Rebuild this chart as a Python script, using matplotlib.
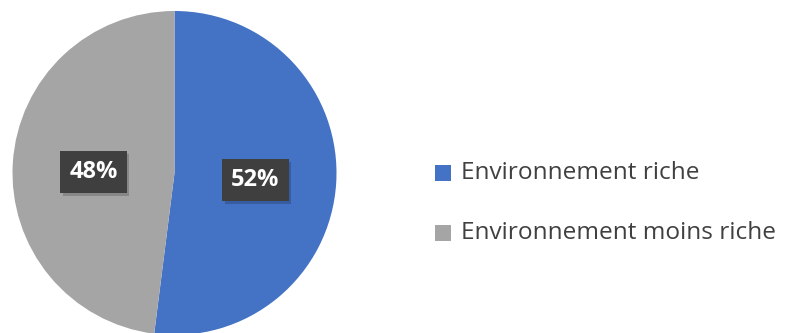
import numpy as np
import matplotlib.pyplot as plt
import matplotlib.patheffects as pe
from matplotlib.patches import Rectangle

plt.rcParams.update({'font.family': ['Open Sans', 'DejaVu Sans'],
                     'hatch.color': '#575757', 'hatch.linewidth': 1.5})

labels = ['Environnement riche', 'Environnement moins riche']
values = [52, 48]
colors = ['#4472C4', '#A5A5A5']

W, H = 788, 333
fig = plt.figure(figsize=(W / 100, H / 100), dpi=100)
fig.patch.set_facecolor('white')

# pie axes in pixel coords: centre (174.5, 173), radius 162
r = 162
cx, cy = 174.5, 173
ax = fig.add_axes([(cx - r) / W, 1 - (cy + r) / H, 2 * r / W, 2 * r / H])
wedges, _ = ax.pie(values, colors=colors, startangle=90, counterclock=False,
                   radius=1.0, wedgeprops=dict(linewidth=0))
ax.set_xlim(-1, 1)
ax.set_ylim(-1, 1)
ax.set_aspect('equal')
ax.axis('off')

# data labels, Excel style dark boxes
label_pos = [(0.50, -0.045), (-0.50, 0.005)]
for (x, y), v in zip(label_pos, values):
    t = ax.text(x, y, f'{v}%', ha='center', va='center', color='white',
                fontsize=17, fontweight='bold', zorder=5,
                bbox=dict(boxstyle='square,pad=0.38', facecolor='#3F3F3F',
                          edgecolor='none', hatch='.'))
    t.get_bbox_patch().set_path_effects([
        pe.SimplePatchShadow(offset=(2, -2), shadow_rgbFace='#000000', alpha=0.18),
        pe.Normal()])

# legend
leg_ax = fig.add_axes([0, 0, 1, 1])
leg_ax.set_xlim(0, W)
leg_ax.set_ylim(H, 0)
leg_ax.axis('off')
rows_y = [173, 233]
for yy, lab, col in zip(rows_y, labels, colors):
    leg_ax.add_patch(Rectangle((435, yy - 8), 16, 16, facecolor=col, edgecolor='none'))
    leg_ax.text(461, yy, lab, ha='left', va='center', fontsize=17.6, color='#404040')

fig.savefig('out.png', dpi=100)
